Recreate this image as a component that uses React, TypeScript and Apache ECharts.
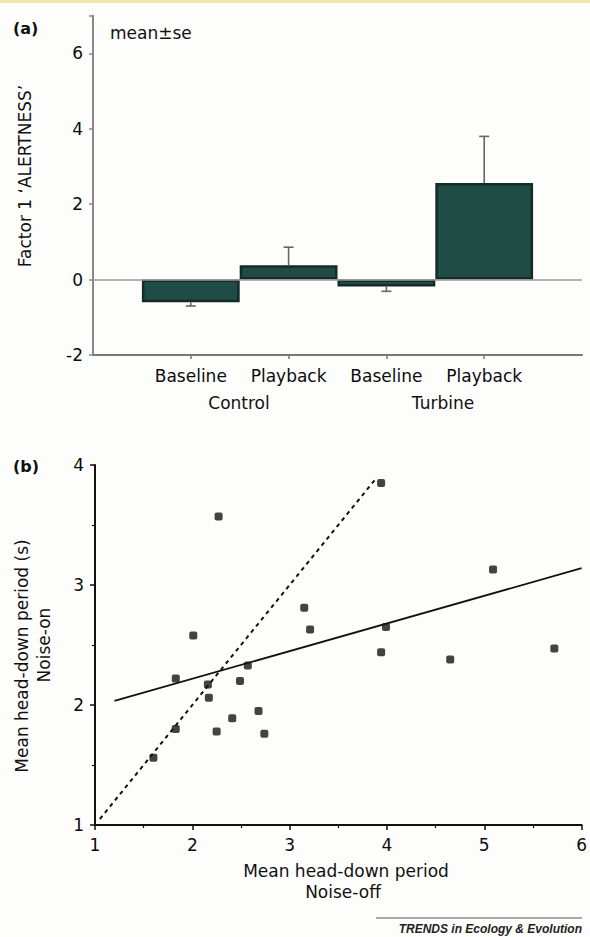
import React, { useEffect, useRef } from "react";
import * as echarts from "echarts";

// ---------- Panel (a) data ----------
const categories = ["", "Baseline", "Playback", "Baseline", "Playback", ""];
const groupLabels = ["Control", "Turbine"];
const meanValues: (number | null)[] = [null, -0.6, 0.38, -0.18, 2.56, null];
const seValues: (number | null)[] = [null, 0.1, 0.48, 0.13, 1.24, null];
const yTicksA = [-2, 0, 2, 4, 6];

// ---------- Panel (b) data ----------
const noiseOff = [2.27, 2.01, 1.83, 2.16, 2.57, 2.49, 2.17, 2.41, 2.25, 2.68, 2.74, 1.83, 1.6, 3.94, 5.09, 3.15, 3.21, 3.99, 3.94, 4.65, 5.72];
const noiseOn = [3.57, 2.58, 2.22, 2.17, 2.33, 2.2, 2.06, 1.89, 1.78, 1.95, 1.76, 1.8, 1.56, 3.85, 3.13, 2.81, 2.63, 2.65, 2.44, 2.38, 2.47];
const fitLineX = [1.2, 6];
const fitLineY = [2.035, 3.14];
const identityX = [1.05, 3.88];
const identityY = [1.05, 3.88];

const FONT = "DejaVu Sans";

export default function App() {
  const ref = useRef<HTMLDivElement>(null);

  useEffect(() => {
    if (!ref.current) return;
    const chart = echarts.init(ref.current, undefined, { renderer: "svg" });

    const barData = meanValues.map((v) => (v === null ? "-" : v));
    const errData: number[][] = [];
    meanValues.forEach((m, i) => {
      const se = seValues[i];
      if (m !== null && se !== null) errData.push([i, m, se]);
    });
    const scatterData = noiseOff.map((x, i) => [x, noiseOn[i]]);
    const fitData = fitLineX.map((x, i) => [x, fitLineY[i]]);
    const identityData = identityX.map((x, i) => [x, identityY[i]]);

    const labelStyle = { fontFamily: FONT, fontSize: 17, color: "#0c0c0c" };

    const option: any = {
      animation: false,
      backgroundColor: "#fdfdfc",
      grid: [
        { left: 93, right: 8, top: 15.75, bottom: 582 },
        { left: 95, right: 8, top: 465, bottom: 112 },
      ],
      xAxis: [
        {
          gridIndex: 0,
          type: "category",
          data: categories,
          boundaryGap: false,
          axisLine: { onZero: false, lineStyle: { color: "#777", width: 2 } },
          axisTick: {
            interval: (i: number) => i >= 1 && i <= 4,
            length: 4,
            lineStyle: { color: "#777", width: 1.5 },
          },
          axisLabel: { interval: 0, margin: 12, ...labelStyle },
          splitLine: { show: false },
        },
        {
          gridIndex: 1,
          type: "value",
          min: 1,
          max: 6,
          interval: 1,
          axisLine: { onZero: false, lineStyle: { color: "#111", width: 2 } },
          axisTick: { length: 5, lineStyle: { color: "#111", width: 1.5 } },
          minorTick: { show: true, splitNumber: 2, length: 3, lineStyle: { color: "#111", width: 1.2 } },
          axisLabel: { margin: 11, ...labelStyle },
          splitLine: { show: false },
        },
      ],
      yAxis: [
        {
          gridIndex: 0,
          type: "value",
          min: -2,
          max: 7,
          interval: 2,
          axisLine: { show: true, lineStyle: { color: "#888", width: 2 } },
          axisTick: { show: true, length: 4, lineStyle: { color: "#888", width: 1.5 } },
          axisLabel: {
            margin: 10,
            formatter: (v: number) => (yTicksA.indexOf(v) >= 0 ? String(v) : ""),
            ...labelStyle,
          },
          splitLine: { show: false },
        },
        {
          gridIndex: 1,
          type: "value",
          min: 1,
          max: 4,
          interval: 1,
          axisLine: { show: true, lineStyle: { color: "#111", width: 2 } },
          axisTick: { show: true, length: 5, lineStyle: { color: "#111", width: 1.5 } },
          minorTick: { show: true, splitNumber: 2, length: 3, lineStyle: { color: "#111", width: 1.2 } },
          axisLabel: { margin: 11, ...labelStyle },
          splitLine: { show: false },
        },
      ],
      series: [
        {
          type: "bar",
          xAxisIndex: 0,
          yAxisIndex: 0,
          data: barData,
          barWidth: "100%",
          itemStyle: { color: "#1f4d46", borderColor: "#142b27", borderWidth: 2.5 },
          markLine: {
            silent: true,
            symbol: ["none", "none"],
            label: { show: false },
            lineStyle: { color: "#999", width: 1.5, type: "solid" },
            data: [{ yAxis: 0 }],
          },
          z: 2,
        },
        {
          type: "custom",
          xAxisIndex: 0,
          yAxisIndex: 0,
          data: errData,
          z: 3,
          renderItem: (params: any, api: any) => {
            const i = api.value(0);
            const m = api.value(1);
            const se = api.value(2);
            const end = m >= 0 ? m + se : m - se;
            const p0 = api.coord([i, m]);
            const p1 = api.coord([i, end]);
            const hw = 5;
            const st = { stroke: "#666", lineWidth: 1.6 };
            return {
              type: "group",
              children: [
                { type: "line", shape: { x1: p0[0], y1: p0[1], x2: p1[0], y2: p1[1] }, style: st },
                { type: "line", shape: { x1: p1[0] - hw, y1: p1[1], x2: p1[0] + hw, y2: p1[1] }, style: st },
              ],
            };
          },
        },
        {
          type: "line",
          xAxisIndex: 1,
          yAxisIndex: 1,
          data: fitData,
          symbol: "none",
          lineStyle: { color: "#111", width: 1.8 },
          z: 2,
        },
        {
          type: "line",
          xAxisIndex: 1,
          yAxisIndex: 1,
          data: identityData,
          symbol: "none",
          lineStyle: { color: "#111", width: 2, type: [4, 4] },
          z: 2,
        },
        {
          type: "scatter",
          xAxisIndex: 1,
          yAxisIndex: 1,
          data: scatterData,
          symbol: "roundRect",
          symbolSize: 8,
          itemStyle: { color: "#141414" },
          z: 3,
        },
      ],
      graphic: [
        { type: "rect", shape: { x: 0, y: 0, width: 590, height: 3 }, style: { fill: "#f2e9a8" }, silent: true },
        {
          type: "text", x: 13, y: 28,
          style: { text: "(a)", fontFamily: FONT, fontSize: 16, fontWeight: "bold", fill: "#111", textVerticalAlign: "middle" },
        },
        {
          type: "text", x: 110, y: 33,
          style: { text: "mean±se", fontFamily: FONT, fontSize: 17, fill: "#111", textVerticalAlign: "middle" },
        },
        {
          type: "text", x: 25, y: 176, rotation: Math.PI / 2,
          style: { text: "Factor 1 ‘ALERTNESS’", fontFamily: FONT, fontSize: 17, fill: "#111", textAlign: "center", textVerticalAlign: "middle" },
        },
        {
          type: "text", x: 239, y: 403,
          style: { text: groupLabels[0], fontFamily: FONT, fontSize: 17, fill: "#111", textAlign: "center", textVerticalAlign: "middle" },
        },
        {
          type: "text", x: 443, y: 403,
          style: { text: groupLabels[1], fontFamily: FONT, fontSize: 17, fill: "#111", textAlign: "center", textVerticalAlign: "middle" },
        },
        {
          type: "text", x: 13, y: 466,
          style: { text: "(b)", fontFamily: FONT, fontSize: 16, fontWeight: "bold", fill: "#111", textVerticalAlign: "middle" },
        },
        {
          type: "text", x: 22, y: 656, rotation: Math.PI / 2,
          style: { text: "Mean head-down period (s)", fontFamily: FONT, fontSize: 17, fill: "#111", textAlign: "center", textVerticalAlign: "middle" },
        },
        {
          type: "text", x: 44, y: 645, rotation: Math.PI / 2,
          style: { text: "Noise-on", fontFamily: FONT, fontSize: 17, fill: "#111", textAlign: "center", textVerticalAlign: "middle" },
        },
        {
          type: "text", x: 346, y: 871,
          style: { text: "Mean head-down period", fontFamily: FONT, fontSize: 17, fill: "#111", textAlign: "center", textVerticalAlign: "middle" },
        },
        {
          type: "text", x: 343, y: 892,
          style: { text: "Noise-off", fontFamily: FONT, fontSize: 17, fill: "#111", textAlign: "center", textVerticalAlign: "middle" },
        },
        {
          type: "line", shape: { x1: 376, y1: 918, x2: 582, y2: 918 },
          style: { stroke: "#aaa", lineWidth: 2 }, silent: true,
        },
        {
          type: "text", x: 582, y: 929,
          style: { text: "TRENDS in Ecology & Evolution", fontFamily: "Liberation Sans", fontSize: 12, fontStyle: "italic", fontWeight: "bold", fill: "#222", textAlign: "right", textVerticalAlign: "middle" },
        },
      ],
    };

    chart.setOption(option);
    return () => chart.dispose();
  }, []);

  return (
    <div
      ref={ref}
      style={{ position: "absolute", left: 0, top: 0, width: 590, height: 937 }}
    />
  );
}
